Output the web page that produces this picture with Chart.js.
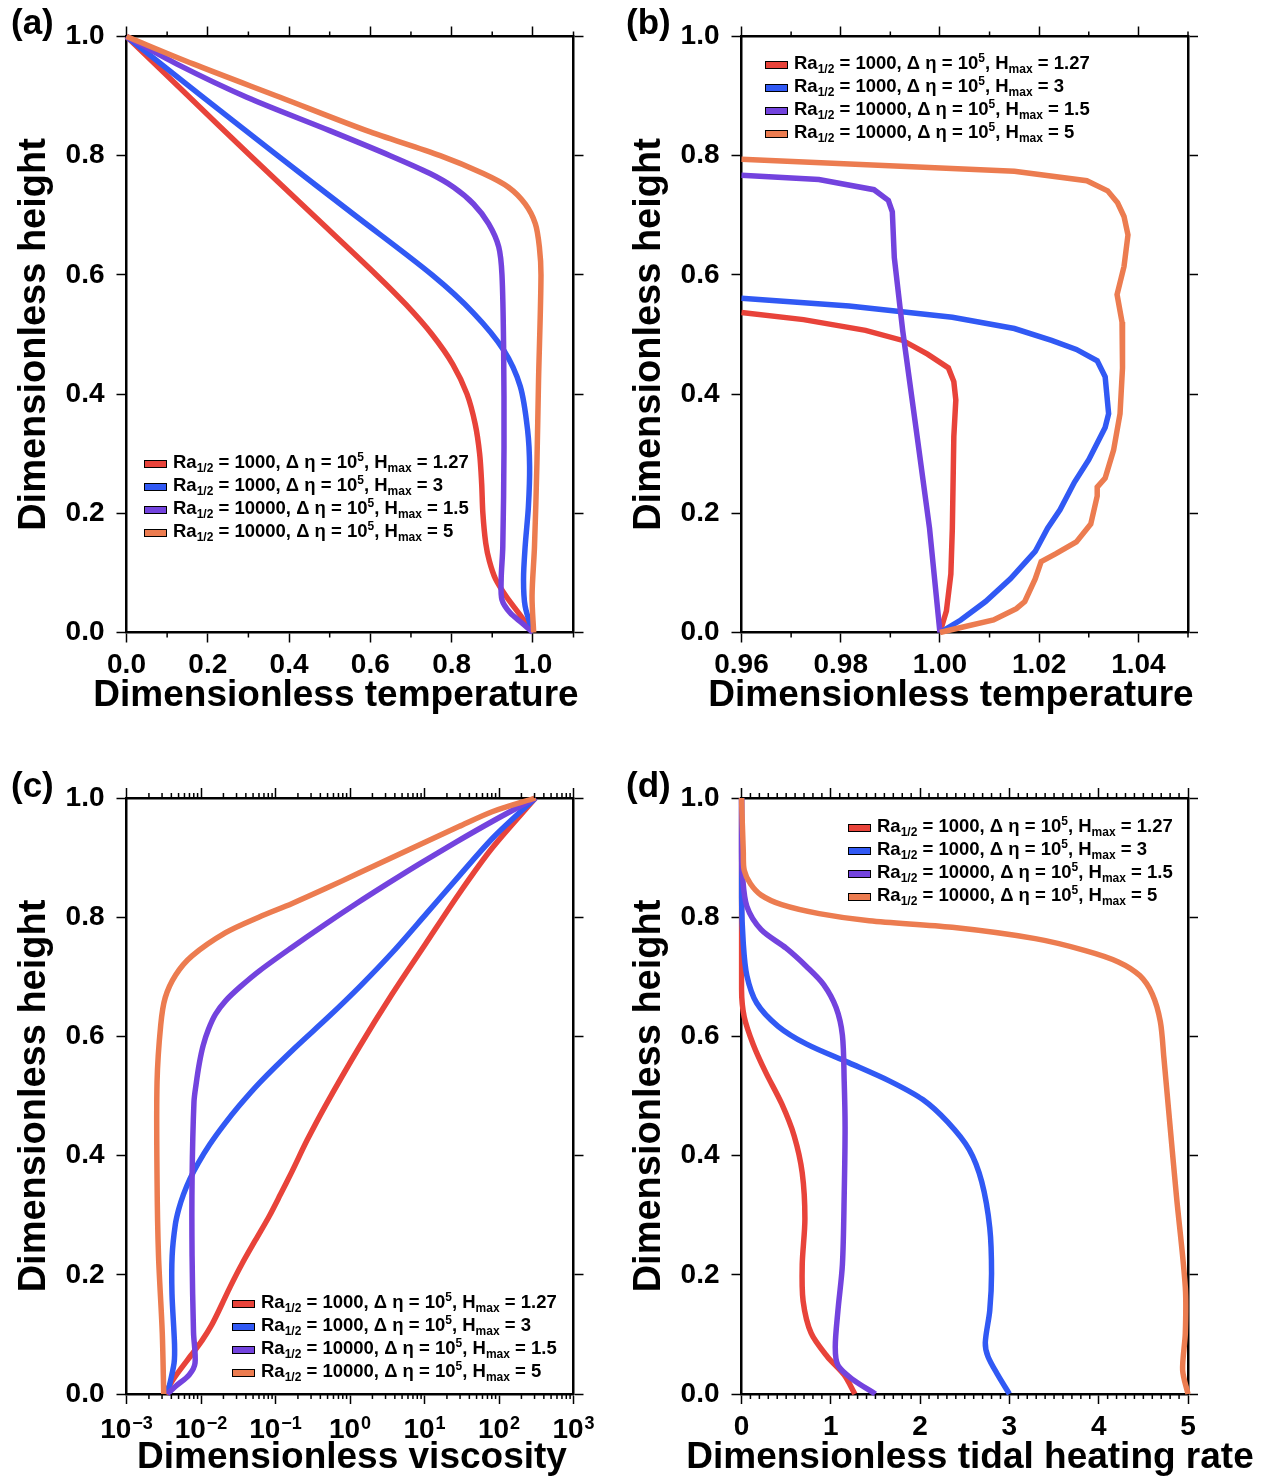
<!DOCTYPE html>
<html>
<head>
<meta charset="utf-8">
<script src="https://cdn.jsdelivr.net/npm/chart.js@4.4.0/dist/chart.umd.min.js"></script>
<style>
  body { margin: 0; background: #fff; }
  #page { position: relative; width: 1272px; height: 1479px; overflow: hidden; background: #fff; }
  #page canvas { position: absolute; }
  .legend { position: absolute; font: bold 18.5px "Liberation Sans", Arial, sans-serif; color: #000; white-space: nowrap; }
  .legend .row { height: 23px; line-height: 23px; }
  .legend .key { display: inline-block; width: 21px; height: 6px; border: 1px solid #000; margin-right: 6px; }
  .legend sub, .legend sup { font-size: 12px; line-height: 0; vertical-align: baseline; position: relative; }
  .legend sub { top: 4px; }
  .legend sup { top: -6.5px; }
</style>
</head>
<body>
<div id="page">
  <canvas id="panelA" width="620" height="740" style="left:0;top:0"></canvas>
  <canvas id="panelB" width="652" height="740" style="left:620px;top:0"></canvas>
  <canvas id="panelC" width="620" height="739" style="left:0;top:740px"></canvas>
  <canvas id="panelD" width="652" height="739" style="left:620px;top:740px"></canvas>
</div>
<script>
// ==========================================================================
// DATA
// ==========================================================================
const seriesLabels = [
  'Ra<sub>1/2</sub> = 1000, \u0394 \u03b7 = 10<sup>5</sup>, H<sub>max</sub> = 1.27',
  'Ra<sub>1/2</sub> = 1000, \u0394 \u03b7 = 10<sup>5</sup>, H<sub>max</sub> = 3',
  'Ra<sub>1/2</sub> = 10000, \u0394 \u03b7 = 10<sup>5</sup>, H<sub>max</sub> = 1.5',
  'Ra<sub>1/2</sub> = 10000, \u0394 \u03b7 = 10<sup>5</sup>, H<sub>max</sub> = 5'
];

const heightTicks = [0, 0.2, 0.4, 0.6, 0.8, 1.0];
const tempTicksA = [0, 0.2, 0.4, 0.6, 0.8, 1.0];
const tempTicksB = [0.96, 0.98, 1.00, 1.02, 1.04];
const viscTicks = [1e-3, 1e-2, 1e-1, 1, 10, 100, 1000];
const heatTicks = [0, 1, 2, 3, 4, 5];

// (a) temperature profiles
const aRedH = [1.0, 0.9, 0.8, 0.7, 0.6, 0.55, 0.5, 0.45, 0.4, 0.35, 0.3, 0.25, 0.2, 0.15, 0.12, 0.09, 0.06, 0.03, 0];
const aRedT = [0, 0.152, 0.305, 0.46, 0.615, 0.688, 0.752, 0.803, 0.838, 0.858, 0.869, 0.874, 0.877, 0.884, 0.893, 0.908, 0.935, 0.968, 1.0];
const aBlueH = [1.0, 0.9, 0.8, 0.7, 0.6, 0.536, 0.474, 0.413, 0.34, 0.278, 0.211, 0.144, 0.089, 0.044, 0.0];
const aBlueT = [0, 0.185, 0.372, 0.562, 0.752, 0.854, 0.928, 0.969, 0.987, 0.992, 0.989, 0.981, 0.977, 0.981, 1.0];
const aPurpleH = [1.0, 0.954, 0.898, 0.842, 0.8, 0.77, 0.747, 0.719, 0.686, 0.647, 0.6, 0.48, 0.312, 0.144, 0.089, 0.055, 0.033, 0.016, 0.0];
const aPurpleT = [0, 0.123, 0.296, 0.50, 0.649, 0.747, 0.805, 0.854, 0.891, 0.916, 0.924, 0.928, 0.929, 0.926, 0.922, 0.924, 0.944, 0.973, 1.0];
const aOrangeH = [1.0, 0.954, 0.898, 0.842, 0.8, 0.77, 0.747, 0.719, 0.686, 0.647, 0.6, 0.424, 0.284, 0.144, 0.061, 0.0];
const aOrangeT = [0, 0.164, 0.378, 0.591, 0.772, 0.878, 0.94, 0.981, 1.006, 1.016, 1.02, 1.014, 1.01, 1.004, 0.998, 1.002];

// (b) temperature profiles, zoom near 1
const bRedH = [0.537, 0.525, 0.507, 0.49, 0.467, 0.444, 0.421, 0.39, 0.329, 0.175, 0.098, 0.036, 0];
const bRedT = [0.96, 0.9725, 0.985, 0.9925, 0.9975, 1.0017, 1.0028, 1.0032, 1.0028, 1.0025, 1.0022, 1.0013, 1.0];
const bBlueH = [0.561, 0.548, 0.529, 0.51, 0.49, 0.475, 0.456, 0.429, 0.367, 0.344, 0.29, 0.252, 0.206, 0.175, 0.136, 0.09, 0.052, 0.021, 0];
const bBlueT = [0.96, 0.9817, 1.0025, 1.015, 1.0225, 1.0275, 1.0317, 1.0333, 1.034, 1.0333, 1.03, 1.0271, 1.0242, 1.0217, 1.0192, 1.0142, 1.0092, 1.0042, 1.0];
const bPurpleH = [0.767, 0.76, 0.743, 0.725, 0.706, 0.629, 0.506, 0.329, 0.175, 0];
const bPurpleT = [0.96, 0.9756, 0.9867, 0.9896, 0.9904, 0.9908, 0.9925, 0.9954, 0.9979, 1.0];
const bOrangeH = [0.794, 0.774, 0.758, 0.741, 0.721, 0.698, 0.667, 0.614, 0.567, 0.521, 0.444, 0.367, 0.306, 0.259, 0.244, 0.229, 0.182, 0.152, 0.132, 0.119, 0.09, 0.052, 0.04, 0.021, 0.005, 0];
const bOrangeT = [0.96, 1.015, 1.0296, 1.0338, 1.0358, 1.0371, 1.0379, 1.0371, 1.0357, 1.0367, 1.0368, 1.0363, 1.035, 1.0333, 1.0317, 1.0317, 1.0304, 1.0275, 1.0233, 1.0204, 1.0192, 1.0171, 1.0154, 1.0108, 1.0025, 1.0];

// (c) viscosity profiles
const cRedH = [1.0, 0.916, 0.839, 0.755, 0.671, 0.581, 0.484, 0.426, 0.374, 0.335, 0.297, 0.258, 0.219, 0.181, 0.148, 0.116, 0.09, 0.065, 0.039, 0.019, 0];
const cRedV = [309, 80.9, 28.9, 10.3, 3.68, 1.315, 0.469, 0.266, 0.1675, 0.1167, 0.0813, 0.0537, 0.0357, 0.0249, 0.01866, 0.01393, 0.01035, 0.00736, 0.00512, 0.00398, 0.00333];
const cBlueH = [1.0, 0.935, 0.871, 0.806, 0.742, 0.684, 0.632, 0.581, 0.523, 0.484, 0.452, 0.419, 0.387, 0.361, 0.335, 0.31, 0.284, 0.232, 0.168, 0.084, 0.052, 0];
const cBlueV = [309, 85.7, 30.0, 10.6, 3.78, 1.36, 0.507, 0.183, 0.0619, 0.0327, 0.0204, 0.01315, 0.00914, 0.00711, 0.00582, 0.00502, 0.00452, 0.0041, 0.00408, 0.00441, 0.00435, 0.00355];
const cPurpleH = [1.0, 0.961, 0.926, 0.89, 0.858, 0.823, 0.787, 0.748, 0.71, 0.683, 0.66, 0.637, 0.612, 0.585, 0.555, 0.52, 0.49, 0.361, 0.232, 0.103, 0.052, 0.032, 0.013, 0];
const cPurpleV = [309, 82.0, 26.5, 8.67, 3.35, 1.22, 0.451, 0.160, 0.0608, 0.0335, 0.0215, 0.0156, 0.0126, 0.0107, 0.0095, 0.0086, 0.00805, 0.00759, 0.00759, 0.00794, 0.00832, 0.00692, 0.00457, 0.00355];
const cOrangeH = [1.0, 0.977, 0.952, 0.926, 0.9, 0.874, 0.848, 0.823, 0.8, 0.774, 0.735, 0.703, 0.665, 0.619, 0.523, 0.361, 0.232, 0.103, 0];
const cOrangeV = [309, 80.9, 28.9, 10.3, 3.68, 1.315, 0.469, 0.1675, 0.0597, 0.0214, 0.00759, 0.00457, 0.00331, 0.00288, 0.00257, 0.00257, 0.00269, 0.00302, 0.00316];

// (d) tidal heating rate profiles
const dRedH = [1.0, 0.679, 0.633, 0.587, 0.54, 0.487, 0.433, 0.371, 0.294, 0.217, 0.156, 0.102, 0.063, 0.032, 0];
const dRedQ = [0, 0, 0.03, 0.13, 0.27, 0.45, 0.59, 0.68, 0.71, 0.68, 0.69, 0.78, 0.96, 1.15, 1.27];
const dBlueH = [1.0, 0.833, 0.756, 0.702, 0.656, 0.617, 0.587, 0.556, 0.525, 0.494, 0.456, 0.41, 0.356, 0.279, 0.202, 0.14, 0.086, 0.063, 0.032, 0];
const dBlueQ = [0, 0, 0.02, 0.06, 0.17, 0.41, 0.73, 1.20, 1.66, 2.03, 2.31, 2.55, 2.69, 2.78, 2.80, 2.78, 2.73, 2.76, 2.87, 3.0];
const dPurpleH = [1.0, 0.91, 0.871, 0.818, 0.779, 0.748, 0.717, 0.687, 0.648, 0.602, 0.525, 0.448, 0.333, 0.217, 0.14, 0.079, 0.048, 0.025, 0];
const dPurpleQ = [0, 0, 0.01, 0.06, 0.22, 0.50, 0.73, 0.92, 1.06, 1.13, 1.15, 1.16, 1.15, 1.13, 1.08, 1.05, 1.08, 1.24, 1.5];
const dOrangeH = [1.0, 0.91, 0.879, 0.856, 0.837, 0.821, 0.806, 0.794, 0.783, 0.764, 0.744, 0.725, 0.702, 0.671, 0.625, 0.564, 0.448, 0.333, 0.179, 0.102, 0.04, 0];
const dOrangeQ = [0, 0.02, 0.03, 0.10, 0.22, 0.45, 0.87, 1.43, 2.36, 3.29, 3.85, 4.22, 4.46, 4.60, 4.69, 4.73, 4.80, 4.87, 4.97, 4.97, 4.94, 5.0];

// ==========================================================================
// STYLE
// ==========================================================================
const seriesColors = ['#E8433A', '#3159F4', '#7343DE', '#EC7C50'];
const FONT = '"Liberation Sans", Arial, sans-serif';
const page = document.getElementById('page');

// minor ticks, log labels, x title and panel tag
const decorations = {
  id: 'decorations',
  afterDraw(chart, args, o) {
    const ctx = chart.ctx;
    const area = chart.chartArea;
    const xs = chart.scales.x;
    ctx.save();
    ctx.strokeStyle = '#000';
    ctx.lineWidth = 1.5;
    ctx.beginPath();
    o.minor.forEach(v => {
      const px = xs.getPixelForValue(v);
      ctx.moveTo(px, area.bottom);
      ctx.lineTo(px, area.bottom + o.minorLen);
      ctx.moveTo(px, area.top);
      ctx.lineTo(px, area.top - o.minorLen);
    });
    ctx.stroke();
    ctx.fillStyle = '#000';
    ctx.textAlign = 'left';
    ctx.textBaseline = 'alphabetic';
    if (o.powers) {
      xs.ticks.forEach(t => {
        const e = Math.round(Math.log10(t.value));
        const sup = (e < 0 ? '\u2212' : '') + Math.abs(e);
        ctx.font = 'bold 28px ' + FONT;
        const wb = ctx.measureText('10').width;
        ctx.font = 'bold 18px ' + FONT;
        const ws = ctx.measureText(sup).width;
        const x0 = xs.getPixelForValue(t.value) - (wb + ws + 1) / 2;
        const y0 = area.bottom + 44;
        ctx.font = 'bold 28px ' + FONT;
        ctx.fillText('10', x0, y0);
        ctx.font = 'bold 18px ' + FONT;
        ctx.fillText(sup, x0 + wb + 1, y0 - 9);
      });
    }
    ctx.font = 'bold 37px ' + FONT;
    ctx.textAlign = 'center';
    ctx.fillText(o.xTitle, o.xTitleX, o.xTitleY);
    ctx.textAlign = 'left';
    ctx.font = 'bold 35px ' + FONT;
    ctx.fillText(o.tag, o.tagX, o.tagY);
    ctx.restore();
  }
};

const axisSize = px => scale => {
  if (scale.isHorizontal()) scale.height = px; else scale.width = px;
};

function frameAxis(position, size, type, min, max, ticks) {
  return {
    type: type, position: position, min: min, max: max,
    afterFit: axisSize(size),
    afterBuildTicks: s => { s.ticks = ticks.map(v => ({ value: v })); },
    ticks: { display: false },
    grid: { drawOnChartArea: false, tickLength: 10, tickWidth: 1.5, tickColor: '#000' },
    border: { display: true, color: '#000', width: 2.5 }
  };
}

function withLabels(axis, fmt, tickPad) {
  axis.ticks = {
    display: fmt !== null, color: '#000', autoSkip: false, maxRotation: 0, padding: tickPad,
    font: { family: FONT, size: 28, weight: 'bold' },
    callback: fmt ? (v => fmt(v)) : undefined
  };
  return axis;
}

function makePanel(id, geo, xAxis, series, tension, deco) {
  const datasets = series.map((s, i) => ({
    label: seriesLabels[i],
    data: s[0].map((v, j) => ({ x: v, y: s[1][j] })),
    borderColor: seriesColors[i],
    backgroundColor: seriesColors[i],
    borderWidth: 5.5,
    pointRadius: 0,
    showLine: true,
    tension: tension,
    clip: 3,
    order: 3 - i
  }));
  const x = withLabels(frameAxis('bottom', geo.bottom, xAxis.type, xAxis.min, xAxis.max, xAxis.ticks), xAxis.fmt, 6);
  const y = withLabels(frameAxis('left', geo.left, 'linear', 0, 1, heightTicks), v => v.toFixed(1), 12);
  y.title = { display: true, text: 'Dimensionless height', color: '#000', padding: { top: geo.yTitlePad },
    font: { family: FONT, size: 38, weight: 'bold' } };
  return new Chart(document.getElementById(id), {
    type: 'scatter',
    data: { datasets: datasets },
    options: {
      responsive: false,
      animation: false,
      events: [],
      layout: { padding: 0 },
      plugins: { legend: { display: false }, tooltip: { enabled: false }, decorations: deco },
      scales: {
        x: x,
        y: y,
        x2: frameAxis('top', geo.top, xAxis.type, xAxis.min, xAxis.max, xAxis.ticks),
        y2: frameAxis('right', geo.right, 'linear', 0, 1, heightTicks)
      }
    },
    plugins: [decorations]
  });
}

function htmlLegend(chart, left, top) {
  const box = document.createElement('div');
  box.className = 'legend';
  box.style.left = left + 'px';
  box.style.top = top + 'px';
  chart.data.datasets.forEach(ds => {
    const row = document.createElement('div');
    row.className = 'row';
    row.innerHTML = '<span class="key" style="background:' + ds.borderColor + '"></span>' + ds.label;
    box.appendChild(row);
  });
  page.appendChild(box);
}

// minor tick positions
const minorA = [0.1, 0.3, 0.5, 0.7, 0.9, 1.1];
const minorB = [0.97, 0.99, 1.01, 1.03, 1.05];
const minorC = [];
for (let k = -3; k < 3; k++) for (let m = 2; m < 10; m++) minorC.push(m * Math.pow(10, k));
const minorD = [];
for (let i = 1; i < 50; i++) if (i % 10) minorD.push(i / 10);

const geoTop = { left: 126.5, right: 46.5, top: 36.5, bottom: 107.5, yTitlePad: 11.5 };
const geoTopR = { left: 121.5, right: 84, top: 36.5, bottom: 107.5, yTitlePad: 6.5 };
const geoBot = { left: 126.5, right: 46.5, top: 58, bottom: 85, yTitlePad: 11.5 };
const geoBotR = { left: 121.5, right: 84, top: 58, bottom: 85, yTitlePad: 6.5 };

// ==========================================================================
// PANELS
// ==========================================================================
const chartA = makePanel('panelA', geoTop,
  { type: 'linear', min: 0, max: 1.1, ticks: tempTicksA, fmt: v => v.toFixed(1) },
  [[aRedT, aRedH], [aBlueT, aBlueH], [aPurpleT, aPurpleH], [aOrangeT, aOrangeH]], 0.3,
  { minor: minorA, minorLen: 5, powers: false, tag: '(a)', tagX: 11, tagY: 34,
    xTitle: 'Dimensionless temperature', xTitleX: 336, xTitleY: 706 });

const chartB = makePanel('panelB', geoTopR,
  { type: 'linear', min: 0.96, max: 1.05, ticks: tempTicksB, fmt: v => v.toFixed(2) },
  [[bRedT, bRedH], [bBlueT, bBlueH], [bPurpleT, bPurpleH], [bOrangeT, bOrangeH]], 0,
  { minor: minorB, minorLen: 5, powers: false, tag: '(b)', tagX: 6, tagY: 34,
    xTitle: 'Dimensionless temperature', xTitleX: 331, xTitleY: 706 });

const chartC = makePanel('panelC', geoBot,
  { type: 'logarithmic', min: 1e-3, max: 1e3, ticks: viscTicks, fmt: null },
  [[cRedV, cRedH], [cBlueV, cBlueH], [cPurpleV, cPurpleH], [cOrangeV, cOrangeH]], 0.3,
  { minor: minorC, minorLen: 5, powers: true, tag: '(c)', tagX: 11, tagY: 57,
    xTitle: 'Dimensionless viscosity', xTitleX: 352, xTitleY: 728 });

const chartD = makePanel('panelD', geoBotR,
  { type: 'linear', min: 0, max: 5, ticks: heatTicks, fmt: v => String(v) },
  [[dRedQ, dRedH], [dBlueQ, dBlueH], [dPurpleQ, dPurpleH], [dOrangeQ, dOrangeH]], 0.3,
  { minor: minorD, minorLen: 5, powers: false, tag: '(d)', tagX: 6, tagY: 57,
    xTitle: 'Dimensionless tidal heating rate', xTitleX: 350, xTitleY: 728 });

htmlLegend(chartA, 144, 449.5);
htmlLegend(chartB, 765, 50.5);
htmlLegend(chartC, 232, 1289.5);
htmlLegend(chartD, 848, 813.5);
</script>
</body>
</html>
